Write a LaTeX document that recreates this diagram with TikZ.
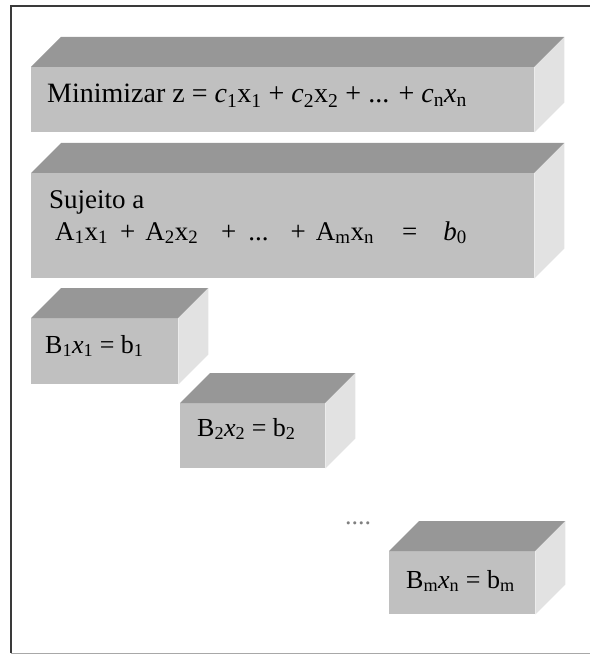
\documentclass[tikz,border=0pt]{standalone}
\usepackage{fontspec}
\setmainfont{Liberation Serif}
\usetikzlibrary{positioning, calc}
\definecolor{cfront}{HTML}{C0C0C0}
\definecolor{ctop}{HTML}{979797}
\definecolor{cside}{HTML}{E2E2E2}
\definecolor{cframe}{HTML}{3A3A3A}
\definecolor{cfoot}{HTML}{A8A8A8}
\newcommand{\sbs}[1]{\textsubscript{#1}}

\begin{document}
\begin{tikzpicture}[x=1pt, y=-1pt,
  front/.style={fill=cfront, draw=none, inner sep=0pt, anchor=north west},
  topf/.style={fill=ctop},
  sidef/.style={fill=cside},
  txt/.style={font=\fontsize{#1}{32}\selectfont, anchor=base west, inner sep=0pt},
  txt/.default=26,
  frm/.style={draw=#1, line width=2pt}
]
\useasboundingbox (0,0) rectangle (589,655);

%% ── Outer frame (right side runs off the page)
\draw[frm=cframe] (600,6) -- (11,6) -- (11,653);
\draw[draw=cfoot, line width=1pt] (11,653) -- (600,653);

%% ── Boxes: front face + top + side
\foreach \n/\x/\y/\w/\h in {
  obj/31/67/503/65,
  res/31/173/503/105,
  blk1/31/318/147/66,
  blk2/180/403/145/65,
  blkm/389/551/146/63
}{
  \node[front, minimum width=\w pt, minimum height=\h pt] (\n) at (\x,\y) {};
  \fill[topf] (\n.north west) -- ++(30,-30) -- ($(\n.north east)+(30,-30)$)
    -- (\n.north east) -- cycle;
  \fill[sidef] (\n.north east) -- ++(30,-30) -- ($(\n.south east)+(30,-30)$)
    -- (\n.south east) -- cycle;
}

%% ── Texts
\node[txt=28] (objtxt) at (47,103)
  {Minimizar z = \textit{c}\sbs{1}x\sbs{1} + \textit{c}\sbs{2}x\sbs{2} + ... + \textit{c}\sbs{n}\textit{x}\sbs{n}};
\node[txt=27] (restxt) at (49,208) {Sujeito a};
\node[txt=27] (sumtxt) at (55,240)
  {A\sbs{1}x\sbs{1}\hspace{12pt}+\hspace{10pt}A\sbs{2}x\sbs{2}\hspace{23pt}+\hspace{12pt}...\hspace{22pt}+\hspace{10pt}A\sbs{m}x\sbs{n}\hspace{28pt}=\hspace{26pt}\textit{b}\sbs{0}};
\node[txt] (blk1txt) at (45,353) {B\sbs{1}\textit{x}\sbs{1} = b\sbs{1}};
\node[txt] (blk2txt) at (197,436) {B\sbs{2}\textit{x}\sbs{2} = b\sbs{2}};
\node[txt] (blkmtxt) at (406,588) {B\sbs{m}\textit{x}\sbs{n} = b\sbs{m}};
\node[txt, text=gray] (dots) at (345,524) {....};

\end{tikzpicture}
\end{document}
